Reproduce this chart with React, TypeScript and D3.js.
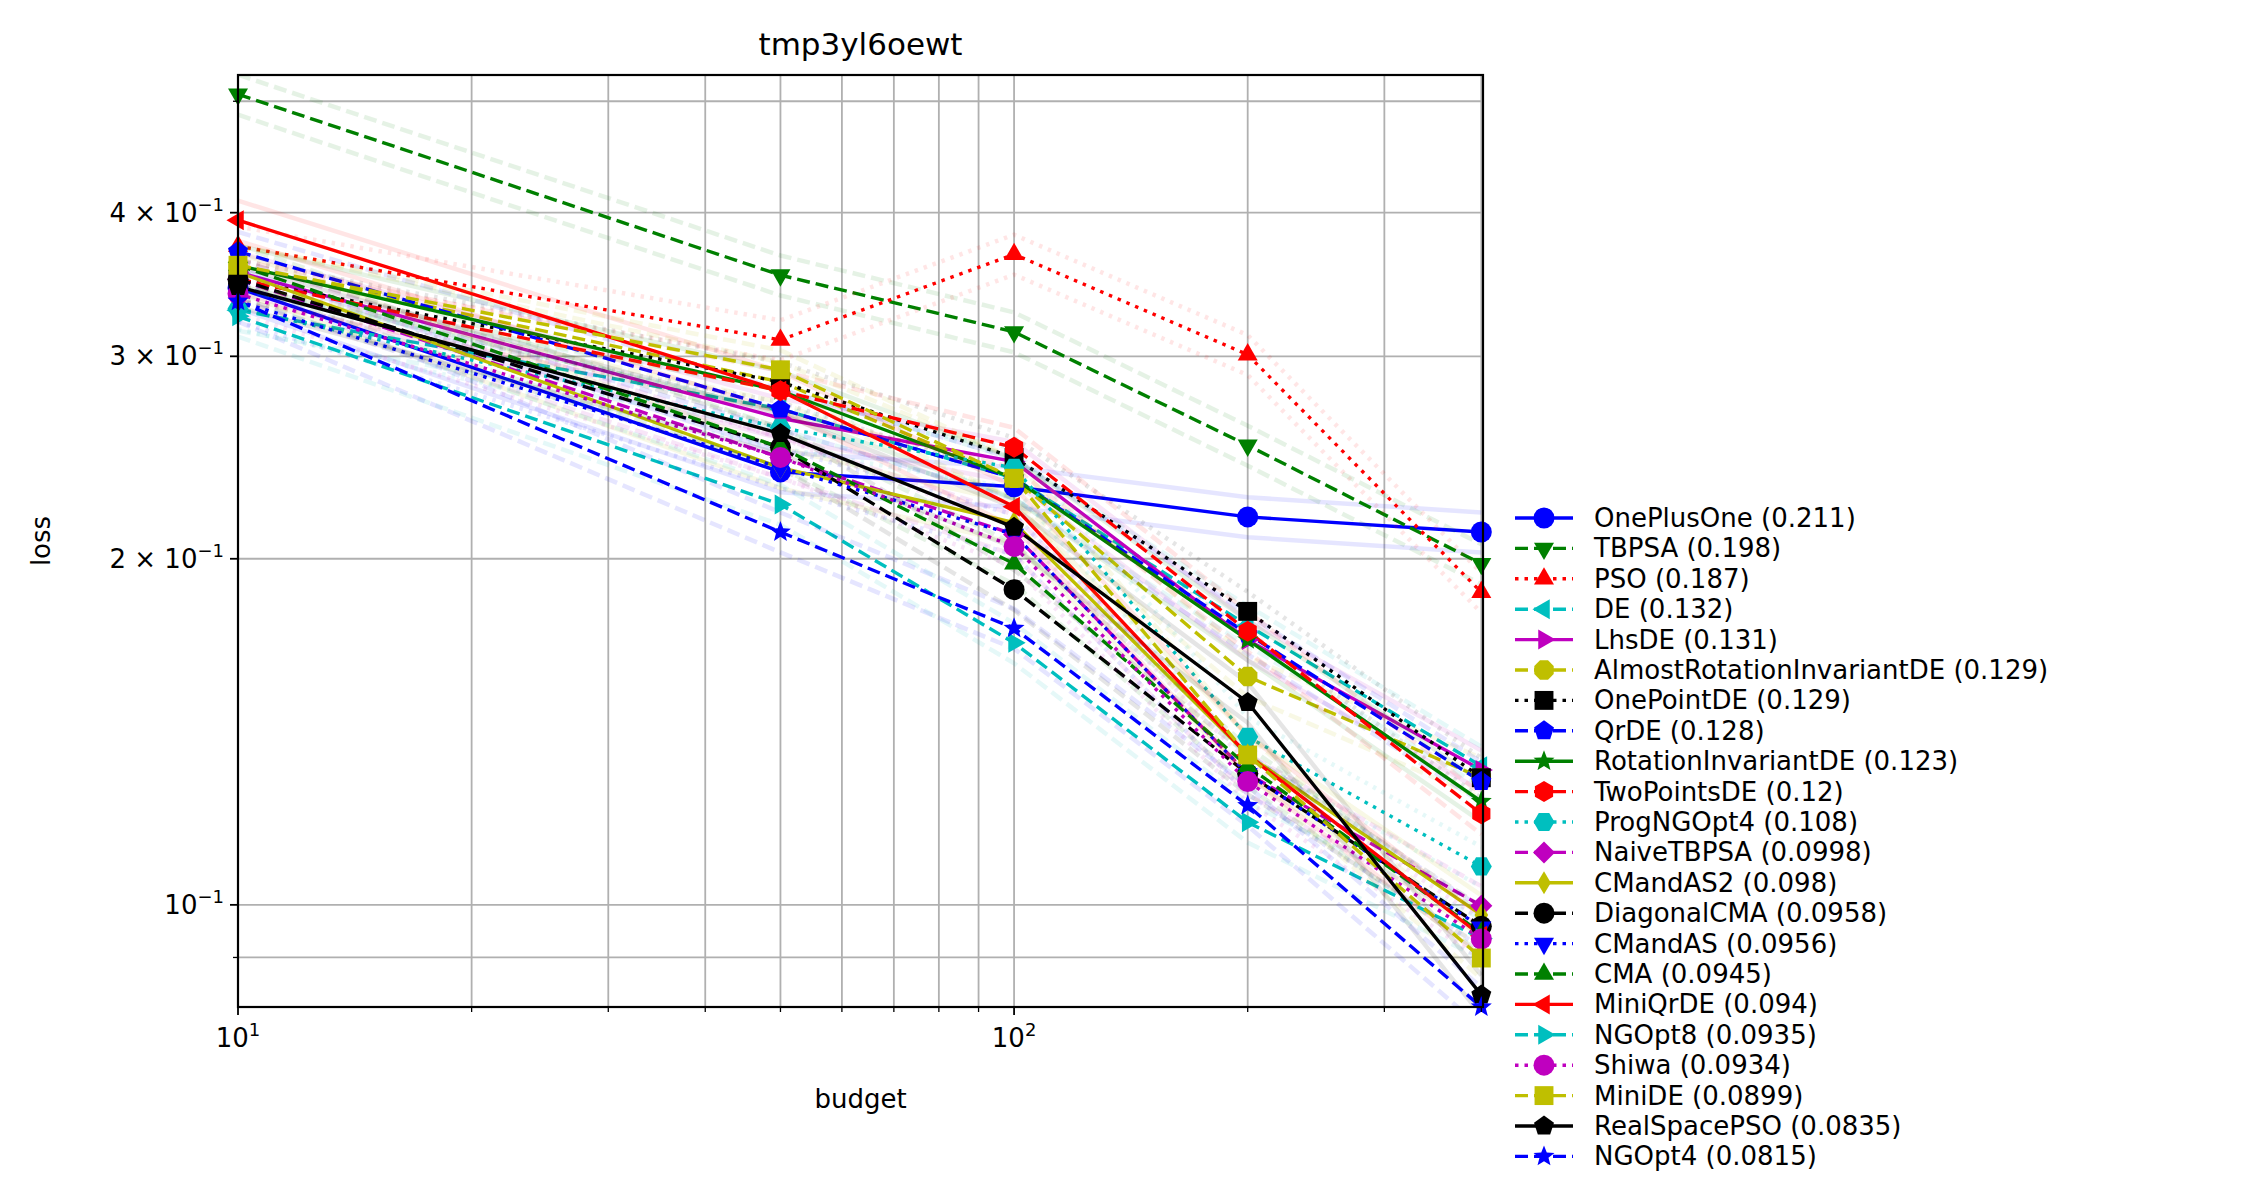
import * as d3 from 'd3';

const budgets = [10, 50, 100, 200, 400];
const names = ['OnePlusOne', 'TBPSA', 'PSO', 'DE', 'LhsDE', 'AlmostRotationInvariantDE', 'OnePointDE', 'QrDE',
  'RotationInvariantDE', 'TwoPointsDE', 'ProgNGOpt4', 'NaiveTBPSA', 'CMandAS2', 'DiagonalCMA', 'CMandAS', 'CMA',
  'MiniQrDE', 'NGOpt8', 'Shiwa', 'MiniDE', 'RealSpacePSO', 'NGOpt4'];
const scores = ['0.211', '0.198', '0.187', '0.132', '0.131', '0.129', '0.129', '0.128', '0.123', '0.12', '0.108',
  '0.0998', '0.098', '0.0958', '0.0956', '0.0945', '0.094', '0.0935', '0.0934', '0.0899', '0.0835', '0.0815'];
const values = [
  [0.344, 0.238, 0.231, 0.2175, 0.211],
  [0.507, 0.353, 0.315, 0.251, 0.198],
  [0.374, 0.31, 0.368, 0.301, 0.187],
  [0.329, 0.27, 0.235, 0.175, 0.132],
  [0.355, 0.265, 0.243, 0.17, 0.131],
  [0.36, 0.285, 0.235, 0.158, 0.129],
  [0.35, 0.285, 0.245, 0.18, 0.129],
  [0.37, 0.27, 0.235, 0.172, 0.128],
  [0.36, 0.28, 0.235, 0.17, 0.123],
  [0.35, 0.28, 0.25, 0.173, 0.12],
  [0.33, 0.26, 0.24, 0.14, 0.108],
  [0.35, 0.245, 0.21, 0.13, 0.0998],
  [0.355, 0.24, 0.215, 0.135, 0.098],
  [0.35, 0.25, 0.188, 0.13, 0.0958],
  [0.335, 0.24, 0.21, 0.13, 0.0956],
  [0.36, 0.25, 0.198, 0.132, 0.0945],
  [0.394, 0.28, 0.222, 0.135, 0.094],
  [0.325, 0.223, 0.169, 0.118, 0.0935],
  [0.34, 0.245, 0.205, 0.128, 0.0934],
  [0.36, 0.292, 0.235, 0.135, 0.0899],
  [0.345, 0.257, 0.213, 0.15, 0.0835],
  [0.335, 0.211, 0.174, 0.122, 0.0815],
];
const colors = ['#0000ff', '#008000', '#ff0000', '#00bfbf', '#bf00bf', '#bfbf00', '#000000', '#0000ff', '#008000',
  '#ff0000', '#00bfbf', '#bf00bf', '#bfbf00', '#000000', '#0000ff', '#008000', '#ff0000', '#00bfbf', '#bf00bf',
  '#bfbf00', '#000000', '#0000ff'];
const styles = ['-', '--', ':', '--', '-', '--', ':', '--', '-', '--', ':', '--', '-', '--', ':', '--', '-', '--', ':',
  '--', '-', '--'];
const markers = ['o', 'v', '^', '<', '>', '8', 's', 'p', '*', 'h', 'H', 'D', 'd', 'o', 'v', '^', '<', '>', 'o', 's', 'p', '*'];

const xTicks = [10, 100];
const xMinor = [20, 30, 40, 50, 60, 70, 80, 90, 200, 300, 400];
const yGrid = [0.09, 0.1, 0.2, 0.3, 0.4, 0.5];
const yLabels: [number, string, string][] = [[0.1, '10', '−1'], [0.2, '2 × 10', '−1'], [0.3, '3 × 10', '−1'], [0.4, '4 × 10', '−1']];

const W = 2251, H = 1204;
const m = { left: 238, right: 1483, top: 75, bottom: 1007 };
const x = d3.scaleLog().domain([10, 402]).range([m.left, m.right]);
const y = d3.scaleLog().domain([0.0815, 0.527]).range([m.bottom, m.top]);

function poly(n: number, r: number, rot: number) {
  const pts = d3.range(n).map((i) => {
    const a = rot + (i * 2 * Math.PI) / n;
    return [r * Math.sin(a), -r * Math.cos(a)];
  });
  return 'M' + pts.map((p) => p.join(',')).join('L') + 'Z';
}
function markerPath(k: string, s: number) {
  const r = s / 2;
  switch (k) {
    case 'v': return poly(3, r * 1.1, Math.PI);
    case '^': return poly(3, r * 1.1, 0);
    case '<': return poly(3, r * 1.1, -Math.PI / 2);
    case '>': return poly(3, r * 1.1, Math.PI / 2);
    case '8': return poly(8, r, Math.PI / 8);
    case 's': return `M${-r * 0.9},${-r * 0.9}h${r * 1.8}v${r * 1.8}h${-r * 1.8}Z`;
    case 'p': return poly(5, r, 0);
    case 'h': return poly(6, r, 0);
    case 'H': return poly(6, r, Math.PI / 6);
    case 'D': return poly(4, r * 1.05, 0);
    case 'd': return `M0,${-r * 1.1}L${r * 0.65},0L0,${r * 1.1}L${-r * 0.65},0Z`;
    case '*': {
      const pts = d3.range(10).map((i) => {
        const rr = i % 2 ? r * 0.45 : r * 1.05;
        const a = (i * Math.PI) / 5;
        return [rr * Math.sin(a), -rr * Math.cos(a)];
      });
      return 'M' + pts.map((p) => p.join(',')).join('L') + 'Z';
    }
    default: return d3.symbol(d3.symbolCircle, Math.PI * r * r)()!;
  }
}
const dash = (s: string) => (s === '--' ? '13,6' : s === ':' ? '3.5,6' : undefined);
const line = d3.line<number>().x((_, i) => x(budgets[i])).y((v) => y(v));
const font = 'DejaVu Sans, sans-serif';
const MS = 21;

export default function App() {
  return (
    <svg width={W} height={H} style={{ fontFamily: font, display: 'block', margin: -8 }}>
      <rect width={W} height={H} fill="#fff" />
      <clipPath id="c"><rect x={m.left} y={m.top} width={m.right - m.left} height={m.bottom - m.top} /></clipPath>
      {[...xTicks, ...xMinor].map((t) => (
        <line key={'x' + t} x1={x(t)} x2={x(t)} y1={m.top} y2={m.bottom} stroke="#b0b0b0" strokeWidth={1.8} />
      ))}
      {yGrid.map((t) => (
        <line key={'y' + t} x1={m.left} x2={m.right} y1={y(t)} y2={y(t)} stroke="#b0b0b0" strokeWidth={1.8} />
      ))}
      <g clipPath="url(#c)">
        {values.map((vs, i) => (
          <g key={names[i]}>
            {[1.04, 0.96].map((f) => (
              <path key={f} d={line(vs.map((v) => v * f))!} fill="none" stroke={colors[i]} strokeOpacity={0.1}
                strokeWidth={4.5} strokeDasharray={dash(styles[i])} />
            ))}
            <path d={line(vs)!} fill="none" stroke={colors[i]} strokeWidth={3.4} strokeDasharray={dash(styles[i])} />
          </g>
        ))}
      </g>
      {values.map((vs, i) => vs.map((v, j) => (
        <path key={names[i] + j} d={markerPath(markers[i], MS)} transform={`translate(${x(budgets[j])},${y(v)})`}
          fill={colors[i]} />
      )))}
      <rect x={m.left} y={m.top} width={m.right - m.left} height={m.bottom - m.top} fill="none" stroke="#000" strokeWidth={2.2} />
      {xTicks.map((t) => (
        <g key={'xt' + t} transform={`translate(${x(t)},${m.bottom})`}>
          <line y2={8} stroke="#000" strokeWidth={1.8} />
          <text y={40} textAnchor="middle" fontSize={26}>10<tspan dy={-11} fontSize={18}>{t === 10 ? '1' : '2'}</tspan></text>
        </g>
      ))}
      {xMinor.map((t) => <line key={'xm' + t} x1={x(t)} x2={x(t)} y1={m.bottom} y2={m.bottom + 5} stroke="#000" strokeWidth={1.3} />)}
      {yLabels.map(([v, a, b]) => (
        <g key={'yl' + v} transform={`translate(${m.left},${y(v)})`}>
          <line x2={-8} stroke="#000" strokeWidth={1.8} />
          <text x={-14} y={9} textAnchor="end" fontSize={26}>{a}<tspan dy={-11} fontSize={18}>{b}</tspan></text>
        </g>
      ))}
      <line x1={m.left} x2={m.left - 5} y1={y(0.09)} y2={y(0.09)} stroke="#000" strokeWidth={1.3} />
      <line x1={m.left} x2={m.left - 5} y1={y(0.5)} y2={y(0.5)} stroke="#000" strokeWidth={1.3} />
      <text x={(m.left + m.right) / 2} y={55} textAnchor="middle" fontSize={31}>tmp3yl6oewt</text>
      <text x={(m.left + m.right) / 2} y={1108} textAnchor="middle" fontSize={26}>budget</text>
      <text transform="translate(50,541) rotate(-90)" textAnchor="middle" fontSize={26}>loss</text>
      {names.map((n, i) => {
        const ly = 518 + i * 30.4;
        return (
          <g key={'lg' + n} transform={`translate(1515,${ly})`}>
            <line x1={0} x2={58} stroke={colors[i]} strokeWidth={3.4} strokeDasharray={dash(styles[i])} />
            <path d={markerPath(markers[i], MS)} transform="translate(29,0)" fill={colors[i]} />
            <text x={79} y={9} fontSize={26}>{`${n} (${scores[i]})`}</text>
          </g>
        );
      })}
    </svg>
  );
}
